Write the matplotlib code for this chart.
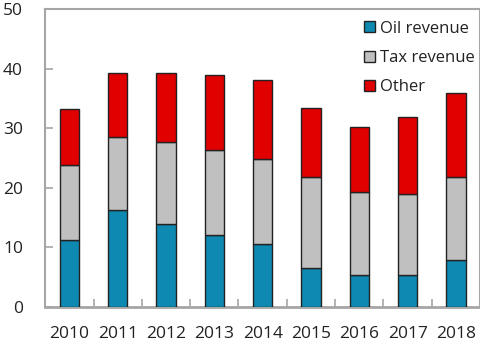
import numpy as np
import matplotlib.pyplot as plt
from matplotlib.patches import Patch

years = ["2010", "2011", "2012", "2013", "2014", "2015", "2016", "2017", "2018"]
oil = [11.2, 16.2, 13.9, 12.0, 10.6, 6.5, 5.3, 5.4, 7.8]
tax = [12.7, 12.3, 13.8, 14.3, 14.2, 15.4, 14.0, 13.5, 14.1]
other = [9.3, 10.8, 11.6, 12.7, 13.3, 11.5, 11.0, 13.0, 14.0]

plt.rcParams['font.family'] = ['Open Sans', 'DejaVu Sans']

fig = plt.figure(figsize=(4.81, 3.44), dpi=100)
ax = fig.add_axes([0.094, 0.108, 0.904, 0.865])

x = np.arange(len(years))
w = 0.4
oil_c, tax_c, oth_c = "#0E8AB2", "#C0C0C0", "#E00000"
edge = "#222222"
b_tax = np.array(oil)
b_oth = b_tax + np.array(tax)
ax.bar(x, oil, w, color=oil_c, edgecolor=edge, linewidth=1.0, zorder=3)
ax.bar(x, tax, w, bottom=b_tax, color=tax_c, edgecolor=edge, linewidth=1.0, zorder=3)
ax.bar(x, other, w, bottom=b_oth, color=oth_c, edgecolor=edge, linewidth=1.0, zorder=3)

ax.set_xlim(-0.5, len(years) - 0.5)
ax.set_ylim(0, 50)
ax.set_yticks(range(0, 51, 10))
ax.set_xticks(x)
ax.set_xticklabels(years)
ax.set_xticks(np.arange(0.5, len(years) - 1, 1), minor=True)

for s in ax.spines.values():
    s.set_color("#A6A6A6")
    s.set_linewidth(1.5)
ax.spines["bottom"].set_linewidth(2)

ax.tick_params(axis="y", direction="in", length=6, width=1.2, color="#A6A6A6",
               pad=16, labelsize=12.5, labelcolor="#222222")
ax.tick_params(axis="x", which="major", length=0, pad=14, labelsize=12.5,
               labelcolor="#222222")
ax.tick_params(axis="x", which="minor", direction="in", length=6, width=1.2,
               color="#A6A6A6")

handles = [Patch(facecolor=oil_c, edgecolor=edge, label="Oil revenue"),
           Patch(facecolor=tax_c, edgecolor=edge, label="Tax revenue"),
           Patch(facecolor=oth_c, edgecolor=edge, label="Other")]
ax.legend(handles=handles, loc="upper right", bbox_to_anchor=(1.01, 0.995),
          frameon=False, fontsize=12, handlelength=0.65, handleheight=0.65,
          handletextpad=0.3, labelspacing=0.8, borderaxespad=0.2,
          labelcolor="#222222")

fig.savefig("out.png", dpi=100)
